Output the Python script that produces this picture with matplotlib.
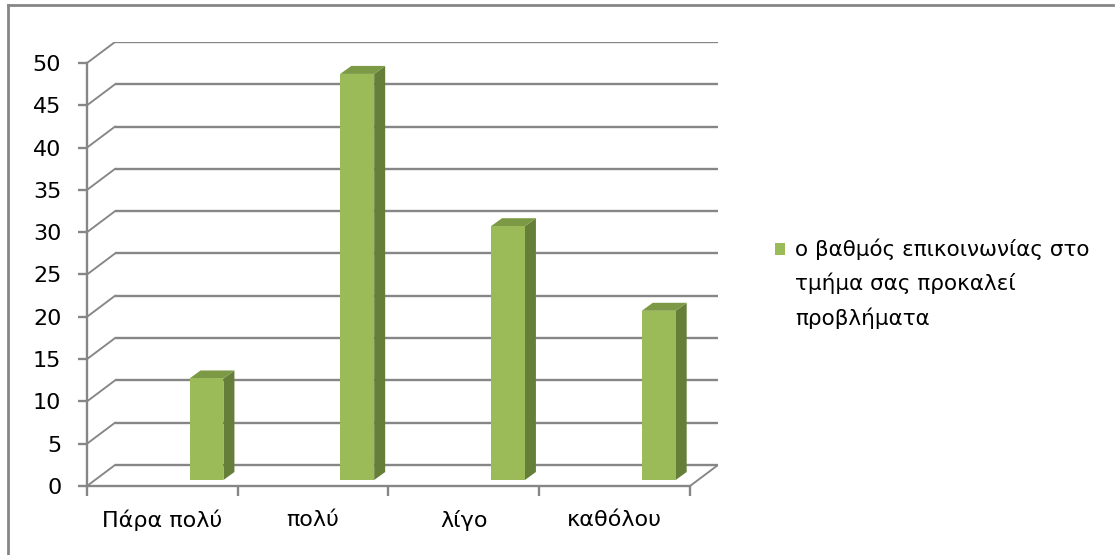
import matplotlib.pyplot as plt
from matplotlib.lines import Line2D
from matplotlib.patches import Rectangle

categories = ['Πάρα πολύ', 'πολύ', 'λίγο', 'καθόλου']
values = [12, 48, 30, 20]
series_name = 'ο βαθμός επικοινωνίας στο\nτμήμα σας προκαλεί\nπροβλήματα'
yticks = list(range(0, 51, 5))

plt.rcParams['font.family'] = ['DejaVu Sans']

W, H = 1115, 555
fig = plt.figure(figsize=(W / 100, H / 100), dpi=100)

# pixel scale of the plot area, depth offset of the back wall (data units)
px_x, px_y = 150.75, 8.46
DX, DY = 28 / px_x, 21 / px_y
x0_px, y0_px = 87, 486
ax = fig.add_axes([x0_px / W, (H - y0_px) / H,
                   px_x * (4 + DX) / W, px_y * (50 + DY) / H])
ax.set_xlim(-0.5, 3.5 + DX)
ax.set_ylim(0, 50 + DY)
ax.patch.set_visible(False)

grid = '#868686'
lw = 1.7

# back wall gridlines and the side wall diagonals
for v in yticks:
    ax.plot([-0.5 + DX, 3.5 + DX], [v + DY, v + DY], color=grid, lw=lw, solid_capstyle='butt')
    ax.plot([-0.5, -0.5 + DX], [v, v + DY], color=grid, lw=lw * 0.8)
# right edge of the floor
ax.plot([3.5, 3.5 + DX], [0, DY], color=grid, lw=lw * 0.8)

# spines / ticks
for s in ['top', 'right']:
    ax.spines[s].set_visible(False)
ax.spines['left'].set_bounds(0, 50)
ax.spines['bottom'].set_bounds(-0.5, 3.5)
for s in ['left', 'bottom']:
    ax.spines[s].set_color(grid)
    ax.spines[s].set_linewidth(lw)

ax.set_yticks(yticks)
ax.set_yticklabels([str(t) for t in yticks], fontsize=16)
ax.tick_params(axis='y', direction='out', length=6.5, width=lw, color=grid, pad=12)

ax.set_xticks(range(len(categories)))
ax.set_xticklabels(categories, fontsize=16)
ax.set_xticks([i - 0.5 for i in range(len(categories) + 1)], minor=True)
ax.tick_params(axis='x', which='major', length=0, pad=17)
ax.tick_params(axis='x', which='minor', direction='out', length=7.2, width=lw, color=grid)

# 3D columns: front face, side and top
front_c, side_c, top_c = '#9BBB59', '#667F38', '#7C9A45'
off, bw = 0.18, 0.225
base = 6 / px_y
ddx, ddy = 11 / px_x, 8 / px_y
for i, v in enumerate(values):
    x0 = i + off
    x1 = x0 + bw
    y0 = base
    y1 = base + v
    ax.fill([x1, x1 + ddx, x1 + ddx, x1], [y0, y0 + ddy, y1 + ddy, y1], color=side_c, lw=0, zorder=3)
    ax.fill([x0, x1, x1 + ddx, x0 + ddx], [y1, y1, y1 + ddy, y1 + ddy], color=top_c, lw=0, zorder=3)
    ax.fill([x0, x1, x1, x0], [y0, y0, y1, y1], color=front_c, lw=0, zorder=4)

# legend
fig.add_artist(Rectangle((775 / W, 1 - 255 / H), 10 / W, 12 / H,
                         transform=fig.transFigure, color=front_c, lw=0))
fig.text(795 / W, 1 - 238 / H, series_name, fontsize=15.5, va='top', ha='left',
         linespacing=1.75)

# chart frame (top and left edges)
fig.add_artist(Line2D([8 / W, 1113 / W], [1 - 5 / H, 1 - 5 / H], transform=fig.transFigure,
                      color=grid, lw=2))
fig.add_artist(Line2D([8 / W, 8 / W], [1 - 5 / H, 0], transform=fig.transFigure,
                      color=grid, lw=2))

fig.savefig('out.png', dpi=100)
